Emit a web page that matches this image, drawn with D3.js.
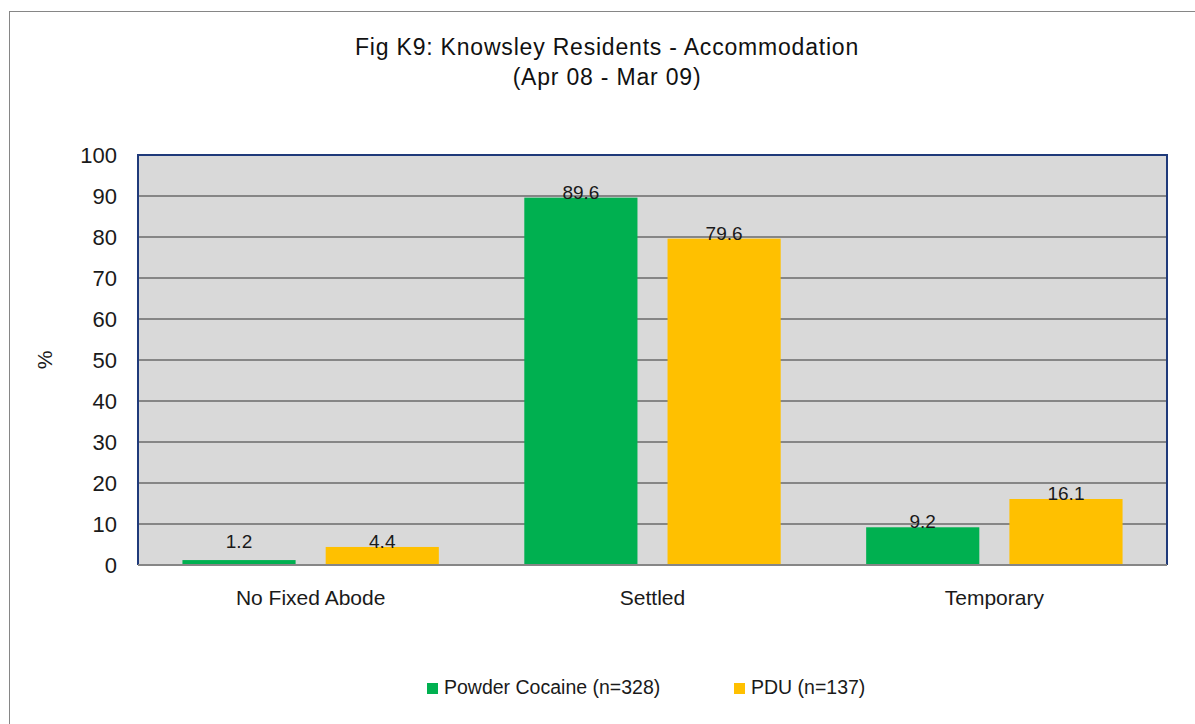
<!DOCTYPE html>
<html>
<head>
<meta charset="utf-8">
<script src="https://cdn.jsdelivr.net/npm/d3@7"></script>
<style>
  body { margin: 0; background: #fff; }
  svg { font-family: "Liberation Sans", Arial, sans-serif; }
</style>
</head>
<body>
<svg id="chart" width="1195" height="724"></svg>
<script>
/* Data */
var categories = ["No Fixed Abode", "Settled", "Temporary"];
var seriesNames = ["Powder Cocaine (n=328)", "PDU (n=137)"];
var cocaineValues = [1.2, 89.6, 9.2];
var pduValues = [4.4, 79.6, 16.1];
var yTicks = [0, 10, 20, 30, 40, 50, 60, 70, 80, 90, 100];
var colors = ["#00b050", "#ffc000"];

var svg = d3.select("#chart");

// outer chart frame
svg.append("rect")
  .attr("x", 9.5).attr("y", 11.5)
  .attr("width", 1200).attr("height", 730)
  .attr("fill", "none").attr("stroke", "#868686").attr("stroke-width", 1);

var plot = { left: 138, top: 155, right: 1167, bottom: 565 };

var x0 = d3.scaleBand()
  .domain(categories)
  .range([plot.left, plot.right])
  .paddingInner(0.25)
  .paddingOuter(0.13);

var x1 = d3.scaleBand()
  .domain([0, 1])
  .range([0, x0.bandwidth()])
  .paddingInner(0.21);

var y = d3.scaleLinear().domain([0, 100]).range([plot.bottom, plot.top]);

// plot background
svg.append("rect")
  .attr("x", plot.left).attr("y", plot.top)
  .attr("width", plot.right - plot.left).attr("height", plot.bottom - plot.top)
  .attr("fill", "#d9d9d9");

// gridlines
svg.append("g").selectAll("line")
  .data(yTicks.filter(function(t) { return t > 0 && t < 100; }))
  .enter().append("line")
    .attr("x1", plot.left).attr("x2", plot.right)
    .attr("y1", function(d) { return y(d); })
    .attr("y2", function(d) { return y(d); })
    .attr("stroke", "#868686").attr("stroke-width", 2);

// bars
var data = categories.map(function(c, i) { return { cat: c, vals: [cocaineValues[i], pduValues[i]] }; });

var groups = svg.append("g").selectAll("g")
  .data(data)
  .enter().append("g")
    .attr("transform", function(d) { return "translate(" + x0(d.cat) + ",0)"; });

groups.selectAll("rect")
  .data(function(d) { return d.vals.map(function(v, s) { return { s: s, v: v }; }); })
  .enter().append("rect")
    .attr("x", function(d) { return x1(d.s); })
    .attr("y", function(d) { return y(d.v); })
    .attr("width", x1.bandwidth())
    .attr("height", function(d) { return y(0) - y(d.v); })
    .attr("fill", function(d) { return colors[d.s]; });

groups.selectAll("text")
  .data(function(d) { return d.vals.map(function(v, s) { return { s: s, v: v }; }); })
  .enter().append("text")
    .attr("x", function(d) { return x1(d.s) + x1.bandwidth() / 2; })
    .attr("y", function(d) { return Math.min(y(d.v) + 1, y(0) - 17); })
    .attr("text-anchor", "middle")
    .attr("font-size", 19)
    .attr("fill", "#1a1a1a")
    .text(function(d) { return d3.format(".1f")(d.v); });

// plot border (navy on top/left/right, gray axis at bottom)
svg.append("path")
  .attr("d", "M" + plot.left + "," + plot.bottom + "V" + plot.top + "H" + plot.right + "V" + plot.bottom)
  .attr("fill", "none").attr("stroke", "#1f3a7a").attr("stroke-width", 2);
svg.append("line")
  .attr("x1", plot.left).attr("x2", plot.right)
  .attr("y1", plot.bottom).attr("y2", plot.bottom)
  .attr("stroke", "#868686").attr("stroke-width", 2);

// y axis
var yAxis = svg.append("g")
  .attr("transform", "translate(" + plot.left + ",0)")
  .call(d3.axisLeft(y).tickValues(yTicks).tickSize(0).tickPadding(21));
yAxis.select(".domain").remove();
yAxis.selectAll("text").attr("font-size", 22).attr("fill", "#1a1a1a")
  .attr("font-family", "Liberation Sans, Arial, sans-serif");

// x axis labels
var xAxis = svg.append("g")
  .attr("transform", "translate(0," + plot.bottom + ")")
  .call(d3.axisBottom(x0).tickSize(0).tickPadding(25));
xAxis.select(".domain").remove();
xAxis.selectAll("text").attr("font-size", 21).attr("fill", "#1a1a1a")
  .attr("font-family", "Liberation Sans, Arial, sans-serif");

// y title
svg.append("text")
  .attr("transform", "translate(52,360) rotate(-90)")
  .attr("text-anchor", "middle")
  .attr("font-size", 21)
  .attr("fill", "#1a1a1a")
  .text("%");

// title
var title = svg.append("text")
  .attr("text-anchor", "middle")
  .attr("font-size", 23)
  .attr("letter-spacing", 0.8)
  .attr("fill", "#111");
title.append("tspan").attr("x", 607).attr("y", 55).text("Fig K9: Knowsley Residents - Accommodation");
title.append("tspan").attr("x", 607).attr("y", 85).text("(Apr 08 - Mar 09)");

// legend
var legendX = [427, 734];
var legend = svg.append("g").selectAll("g")
  .data(seriesNames)
  .enter().append("g")
    .attr("transform", function(d, i) { return "translate(" + legendX[i] + ",683)"; });
legend.append("rect")
  .attr("width", 11).attr("height", 11)
  .attr("fill", function(d, i) { return colors[i]; });
legend.append("text")
  .attr("x", 17).attr("y", 11)
  .attr("font-size", 19.5)
  .attr("fill", "#1a1a1a")
  .text(function(d) { return d; });
</script>
</body>
</html>
